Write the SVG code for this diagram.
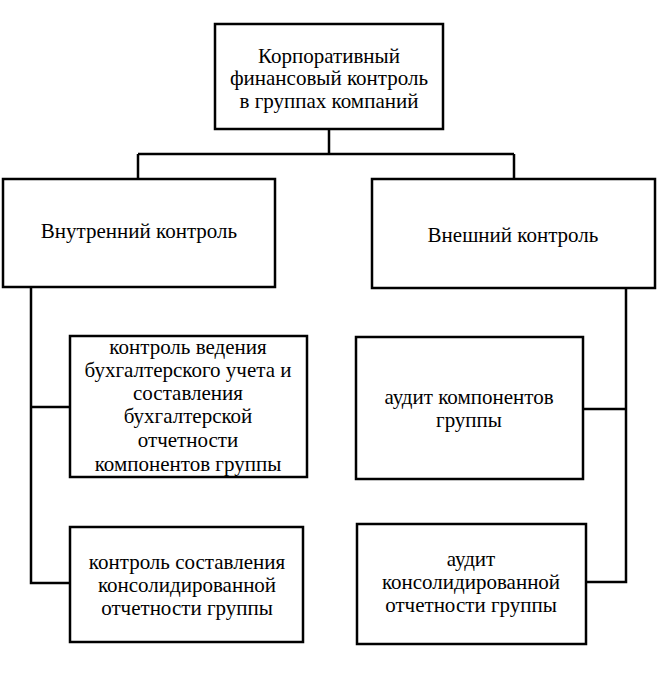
<svg xmlns="http://www.w3.org/2000/svg" width="657" height="675" viewBox="0 0 657 675">
<style>
rect{fill:#fff;stroke:#000;stroke-width:2.5}
text{font-size:21px;fill:#000;text-anchor:middle}
.c{fill:none;stroke:#000;stroke-width:2.5}
</style>
<rect x="0" y="0" width="657" height="675" style="stroke:none"/>
<g id="connectors">
<path class="c" d="M329 129V154M138 154H514M138 154V179M514 154V179"/>
<path class="c" d="M31 287V583H70M31 407H70"/>
<path class="c" d="M626 288V582H586M583 409H626"/>
</g>
<g font-family="'Liberation Serif', 'Times New Roman', 'DejaVu Serif', serif">
<g id="root">
<rect x="215" y="24" width="228" height="105"/>
<text x="329" y="63">Корпоративный</text>
<text x="329" y="85">финансовый контроль</text>
<text x="329" y="108">в группах компаний</text>
</g>
<g id="internal">
<rect x="3" y="179" width="272" height="108"/>
<text x="139" y="238">Внутренний контроль</text>
</g>
<g id="external">
<rect x="372" y="179" width="283" height="109"/>
<text x="513" y="242">Внешний контроль</text>
</g>
<g id="int1">
<rect x="70" y="336" width="237" height="141"/>
<text x="188" y="354">контроль ведения</text>
<text x="188" y="377">бухгалтерского учета и</text>
<text x="188" y="400">составления</text>
<text x="188" y="423">бухгалтерской</text>
<text x="188" y="447">отчетности</text>
<text x="188" y="471">компонентов группы</text>
</g>
<g id="int2">
<rect x="70" y="527" width="233" height="115"/>
<text x="187" y="569">контроль составления</text>
<text x="187" y="592">консолидированной</text>
<text x="187" y="615">отчетности группы</text>
</g>
<g id="ext1">
<rect x="356" y="337" width="227" height="142"/>
<text x="469" y="404">аудит компонентов</text>
<text x="469" y="427">группы</text>
</g>
<g id="ext2">
<rect x="357" y="524" width="229" height="120"/>
<text x="471" y="566">аудит</text>
<text x="471" y="589">консолидированной</text>
<text x="471" y="612">отчетности группы</text>
</g>
</g>
</svg>
